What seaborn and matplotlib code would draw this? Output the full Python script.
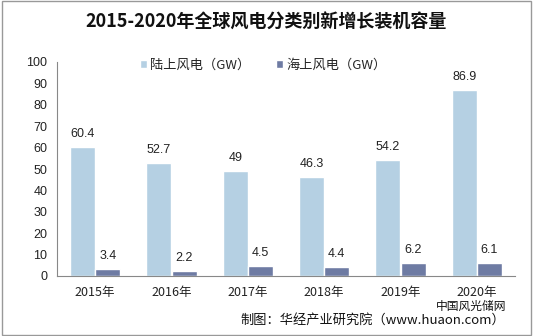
import matplotlib
matplotlib.use("Agg")
import matplotlib.pyplot as plt
import seaborn as sns
import pandas as pd
import numpy as np

years = ["2015年", "2016年", "2017年", "2018年", "2019年", "2020年"]
onshore = [60.4, 52.7, 49, 46.3, 54.2, 86.9]
offshore = [3.4, 2.2, 4.5, 4.4, 6.2, 6.1]
series = ["陆上风电（GW）", "海上风电（GW）"]
colors = ["#B5D0E3", "#6E7BA3"]

sns.set_theme(style="white")
plt.rcParams['font.family'] = ['Noto Sans CJK SC', 'DejaVu Sans']

df = pd.DataFrame({
    "year": years * 2,
    "value": onshore + offshore,
    "series": [series[0]] * len(years) + [series[1]] * len(years),
})

fig = plt.figure(figsize=(5.33, 3.36), dpi=100)
ax = fig.add_axes([57/533, 1-276/336, (515-57)/533, (276-62)/336])

sns.barplot(data=df, x="year", y="value", hue="series", palette=colors,
            width=0.66, ax=ax, legend=True, saturation=1, errorbar=None)

for cont in ax.containers:
    labels = [("%g" % v) for v in cont.datavalues]
    ax.bar_label(cont, labels=labels, padding=5, fontsize=9, color="#222222",
                 family=['Liberation Sans', 'DejaVu Sans'])

ax.set_ylim(0, 100)
ax.set_xlim(-0.5, len(years) - 0.5)
ax.set_yticks(np.arange(0, 101, 10))
ax.set_xlabel("")
ax.set_ylabel("")
for s in ["top", "right"]:
    ax.spines[s].set_visible(False)
for s in ["left", "bottom"]:
    ax.spines[s].set_color("#888888")
    ax.spines[s].set_linewidth(0.8)

ax.set_xticks(np.arange(-0.5, len(years), 1.0), minor=True)
ax.tick_params(axis="x", which="major", length=0, pad=7, labelsize=9, colors="#222222")
ax.tick_params(axis="x", which="minor", length=5, color="#888888", width=0.8, direction="out")
ax.tick_params(axis="y", which="major", length=4, color="#888888", width=0.8,
               direction="out", labelsize=9, colors="#222222", pad=3)
for lab in ax.get_yticklabels():
    lab.set_family(['Liberation Sans', 'DejaVu Sans'])

leg = ax.legend(loc="center", bbox_to_anchor=((263-57)/458, (276-65)/214), ncol=2, frameon=False,
                fontsize=9.5, handlelength=0.55, handleheight=0.55, handletextpad=0.2,
                columnspacing=2.0, borderaxespad=0)

fig.text(0.5, 1-22/336, "2015-2020年全球风电分类别新增长装机容量", ha="center", va="center",
         fontsize=13, fontweight="bold", color="#111111")
fig.text(505/533, 1-320/336, "制图：华经产业研究院（www.huaon.com）", ha="right", va="center",
         fontsize=9.5, color="#111111")
fig.text(506/533, 1-306/336, "中国风光储网", ha="right", va="center",
         fontsize=8.5, color="#111111")

fig.patches.append(matplotlib.patches.Rectangle((0.003, 0.003), 0.994, 0.994, transform=fig.transFigure,
                                                fill=False, edgecolor="#999999", linewidth=1))

fig.savefig("out.png", dpi=100)
